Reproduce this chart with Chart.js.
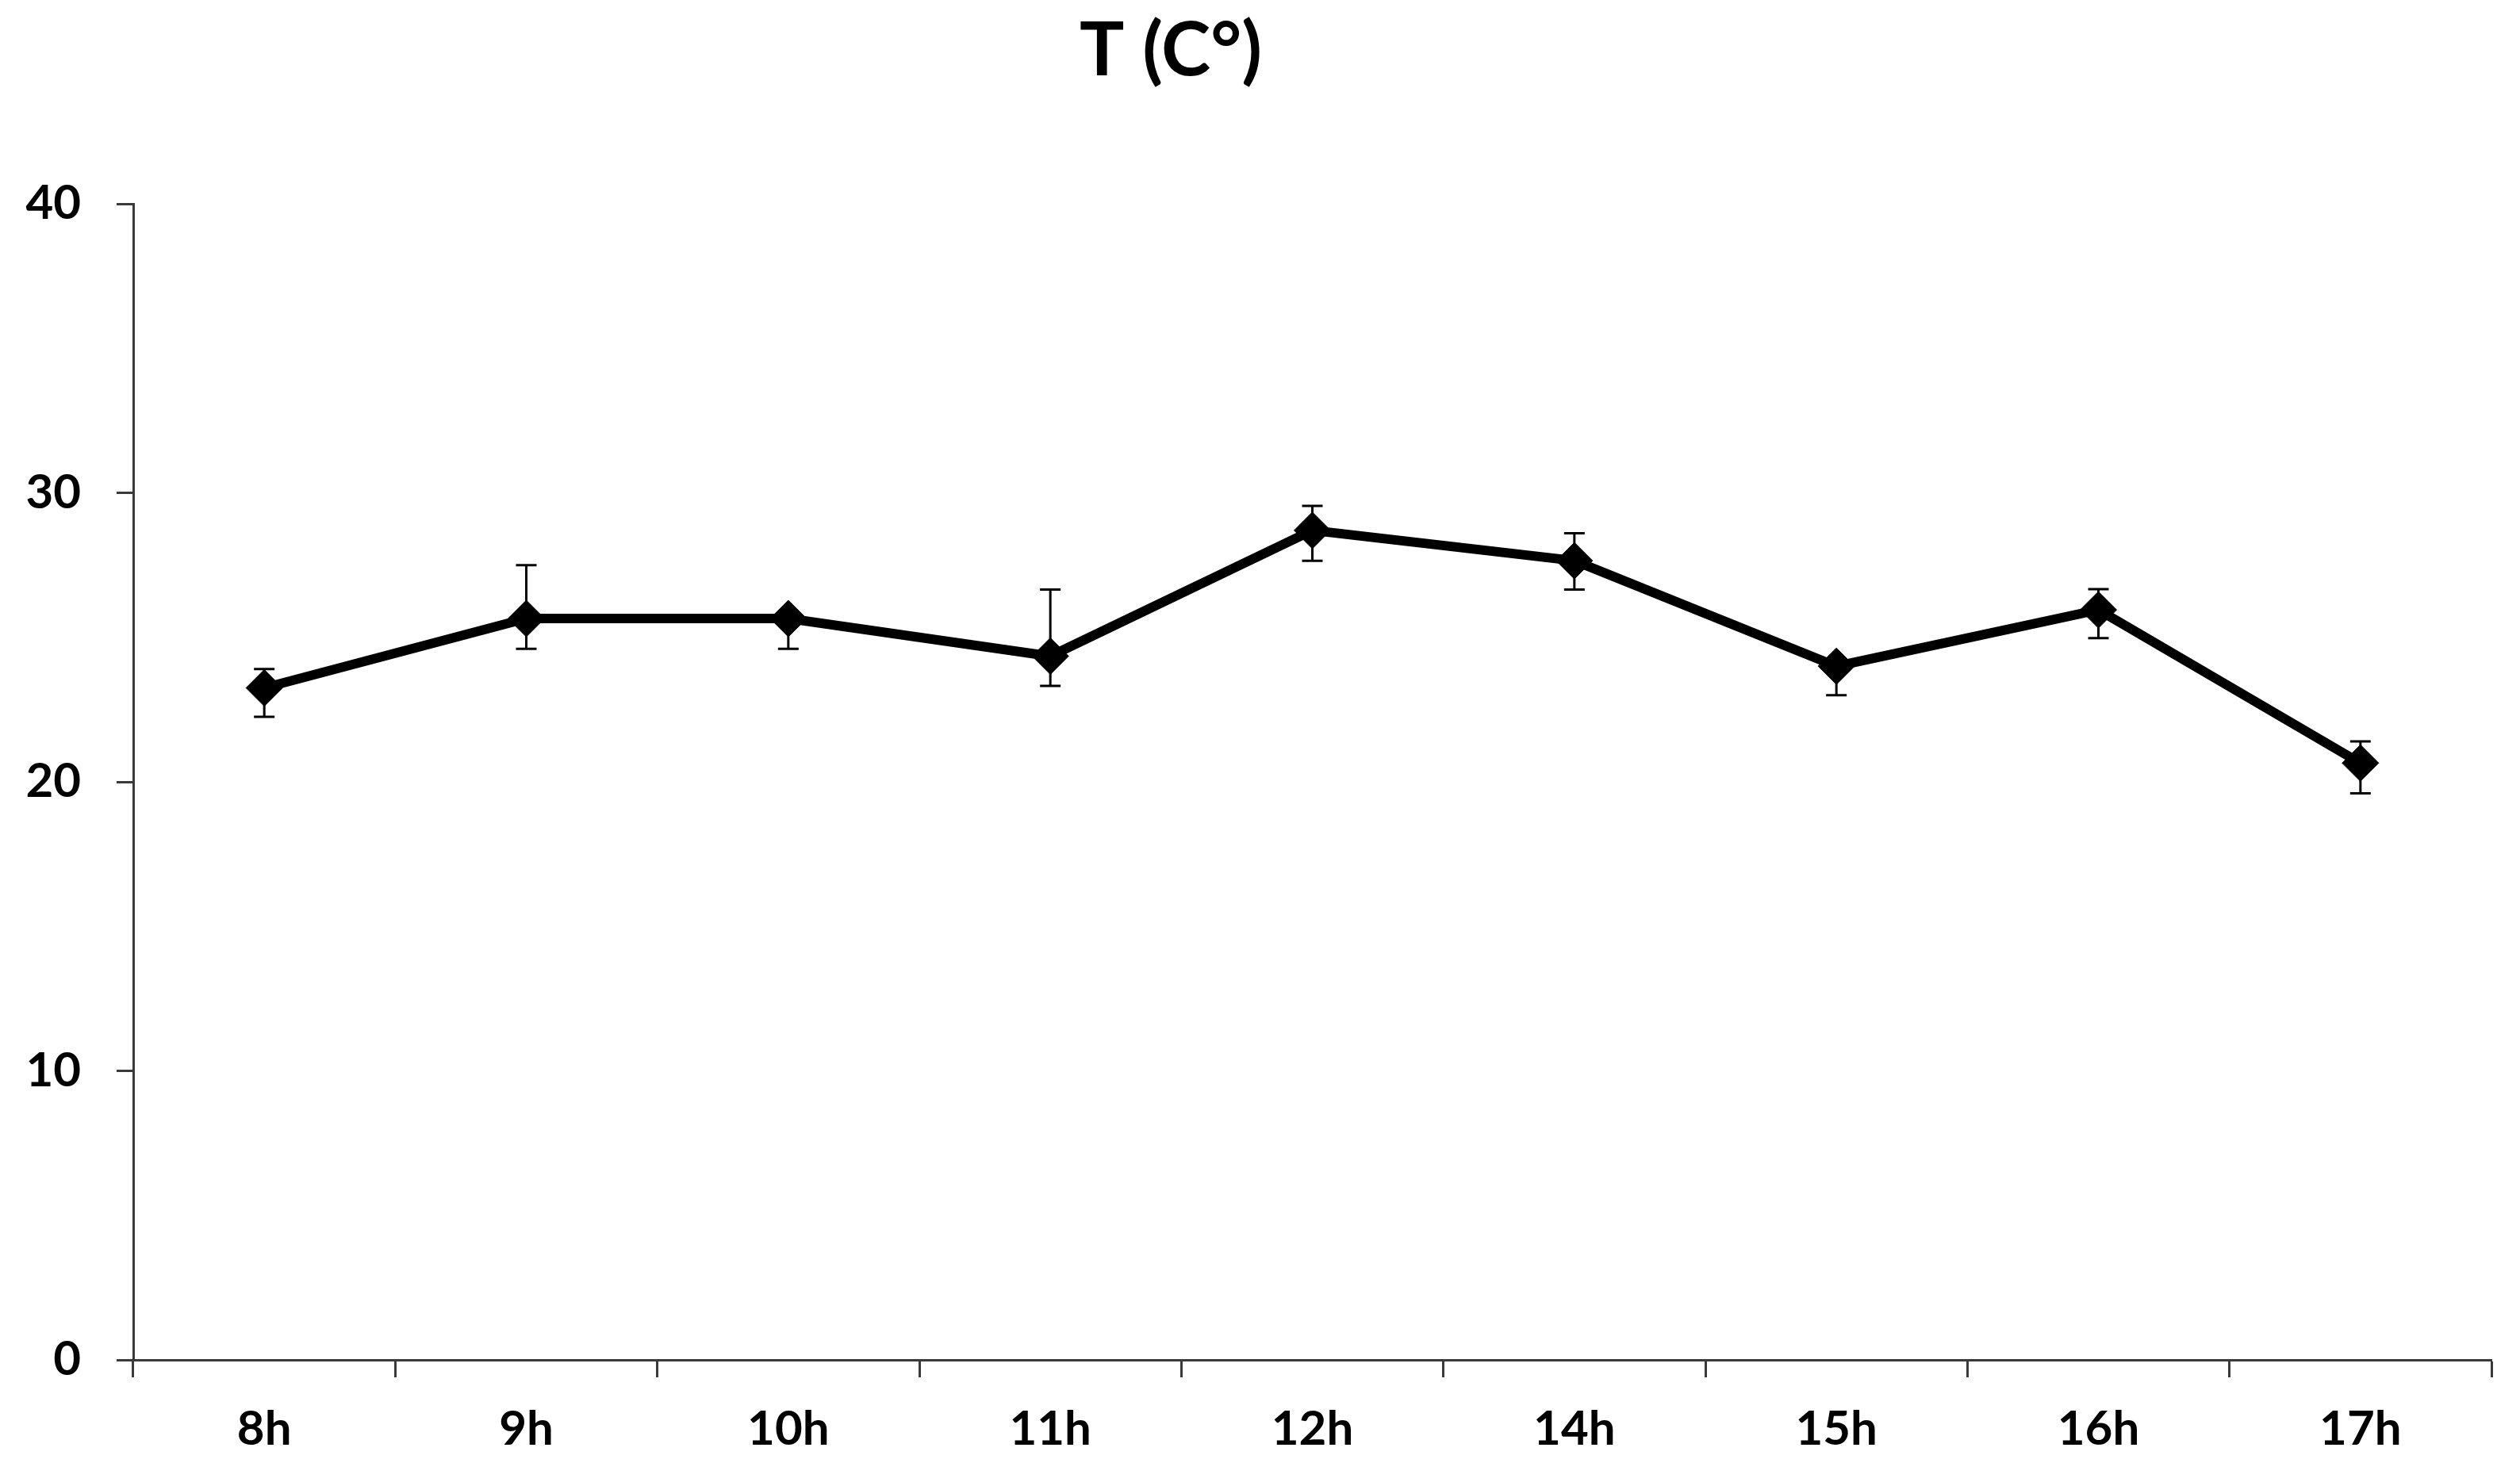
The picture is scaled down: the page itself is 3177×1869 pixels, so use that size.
<!DOCTYPE html>
<html>
<head>
<meta charset="utf-8">
<script src="https://cdn.jsdelivr.net/npm/chart.js@4/dist/chart.umd.min.js"></script>
<style>
  html, body { margin: 0; padding: 0; background: #ffffff; }
  #wrap { width: 3177px; height: 1869px; position: relative; }
</style>
</head>
<body>
<div id="wrap"><canvas id="c" width="3177" height="1869"></canvas></div>
<script>
const titleText = 'T (C°)';
const categories = ['8h', '9h', '10h', '11h', '12h', '14h', '15h', '16h', '17h'];
const temperature = [23.25, 25.65, 25.65, 24.35, 28.7, 27.65, 24.0, 25.95, 20.65];
const errorPlus = [0.65, 1.85, 0.1, 2.3, 0.85, 0.95, 0.1, 0.72, 0.75];
const errorMinus = [1.0, 1.05, 1.05, 1.03, 1.05, 1.0, 1.0, 0.98, 1.05];
const yTicks = [0, 10, 20, 30, 40];

const axisColor = '#3a3a3a';
const fontFamily = 'Lato, "Open Sans", "DejaVu Sans", sans-serif';

const errorBarPlugin = {
  id: 'errorBars',
  afterDatasetsDraw(chart) {
    const meta = chart.getDatasetMeta(0);
    const ys = chart.scales.y;
    const ctx = chart.ctx;
    ctx.save();
    ctx.strokeStyle = '#000000';
    ctx.lineWidth = 3;
    const cap = 13;
    meta.data.forEach((pt, i) => {
      const x = pt.x;
      const top = ys.getPixelForValue(temperature[i] + errorPlus[i]);
      const bot = ys.getPixelForValue(temperature[i] - errorMinus[i]);
      ctx.beginPath();
      ctx.moveTo(x, top); ctx.lineTo(x, bot);
      ctx.moveTo(x - cap, top); ctx.lineTo(x + cap, top);
      ctx.moveTo(x - cap, bot); ctx.lineTo(x + cap, bot);
      ctx.stroke();
    });
    ctx.restore();
  }
};

const titlePlugin = {
  id: 'offsetTitle',
  afterDraw(chart) {
    const ctx = chart.ctx;
    ctx.save();
    ctx.fillStyle = '#000000';
    ctx.font = 'bold 94px ' + fontFamily;
    ctx.textAlign = 'center';
    ctx.textBaseline = 'alphabetic';
    ctx.fillText(titleText, 1476, 95);
    ctx.restore();
  }
};

new Chart(document.getElementById('c'), {
  type: 'line',
  data: {
    labels: categories,
    datasets: [{
      label: titleText,
      data: temperature,
      borderColor: '#000000',
      borderWidth: 12,
      tension: 0,
      pointStyle: 'rectRot',
      pointRadius: 23,
      pointHoverRadius: 23,
      pointBackgroundColor: '#000000',
      pointBorderColor: '#000000',
      pointBorderWidth: 1,
      fill: false
    }]
  },
  options: {
    responsive: false,
    animation: false,
    events: [],
    layout: { padding: { top: 257, right: 36, bottom: 0, left: 0 } },
    plugins: {
      legend: { display: false },
      title: { display: false },
      tooltip: { enabled: false }
    },
    scales: {
      x: {
        type: 'category',
        offset: true,
        grid: {
          offset: true,
          drawOnChartArea: false,
          drawTicks: true,
          tickLength: 22,
          tickWidth: 3,
          tickColor: axisColor
        },
        border: { display: true, color: axisColor, width: 3 },
        ticks: {
          color: '#000000',
          font: { family: fontFamily, size: 60, weight: 'bold' },
          padding: 30,
          maxRotation: 0,
          autoSkip: false
        },
        afterFit(axis) { axis.height = 154; }
      },
      y: {
        min: 0,
        max: 40,
        afterBuildTicks(axis) { axis.ticks = yTicks.map(v => ({ value: v })); },
        grid: {
          drawOnChartArea: false,
          drawTicks: true,
          tickLength: 21,
          tickWidth: 3,
          tickColor: axisColor
        },
        border: { display: true, color: axisColor, width: 3 },
        ticks: {
          color: '#000000',
          font: { family: fontFamily, size: 60, weight: 'bold' },
          padding: 45
        },
        afterFit(axis) { axis.width = 168; }
      }
    }
  },
  plugins: [errorBarPlugin, titlePlugin]
});
</script>
</body>
</html>
